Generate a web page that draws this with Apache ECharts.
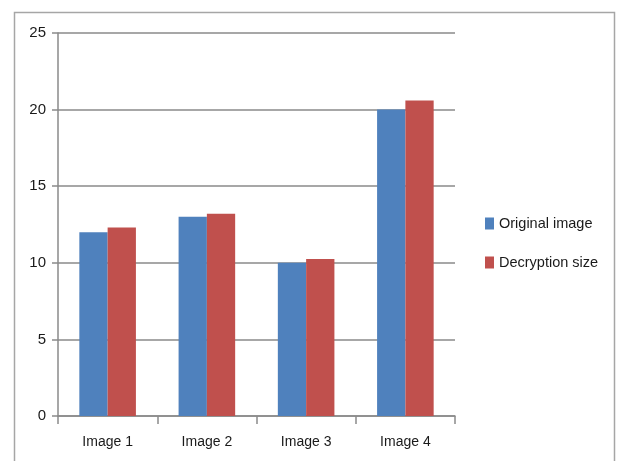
<!DOCTYPE html>
<html>
<head>
<meta charset="utf-8">
<script src="https://cdn.jsdelivr.net/npm/echarts@6/dist/echarts.min.js"></script>
<style>
  html, body { margin: 0; padding: 0; background: #fff; }
  #chart { width: 617px; height: 461px; }
</style>
</head>
<body>
<div id="chart"></div>
<script>
// Size comparison per image
const categories = ['Image 1', 'Image 2', 'Image 3', 'Image 4'];
const originalImage = [12, 13, 10, 20];
const decryptionSize = [12.3, 13.2, 10.25, 20.6];
const seriesNames = ['Original image', 'Decryption size'];

const FONT = "'Liberation Sans', 'Noto Sans', sans-serif";
const GRID_COLOR = '#8a8a8a';

const chart = echarts.init(document.getElementById('chart'));
chart.setOption({
  animation: false,
  backgroundColor: '#fff',
  graphic: [{
    type: 'rect',
    shape: { x: 14.5, y: 12.5, width: 600, height: 460 },
    style: { fill: 'none', stroke: '#a6a6a6', lineWidth: 1.5 },
    silent: true
  }],
  grid: { left: 58, top: 33, right: 162, bottom: 45 },
  legend: {
    orient: 'vertical',
    left: 480,
    top: 211,
    itemWidth: 9,
    itemHeight: 12,
    itemGap: 24,
    icon: 'rect',
    textStyle: { fontFamily: FONT, fontSize: 14.5, color: '#1a1a1a' },
    data: seriesNames
  },
  xAxis: {
    type: 'category',
    data: categories,
    boundaryGap: true,
    axisLine: { lineStyle: { color: GRID_COLOR, width: 1.5 } },
    axisTick: { show: true, length: 8, lineStyle: { color: GRID_COLOR, width: 1.5 } },
    axisLabel: { margin: 19, fontFamily: FONT, fontSize: 14, color: '#1a1a1a' }
  },
  yAxis: {
    type: 'value',
    min: 0,
    max: 25,
    interval: 5,
    axisLine: { show: true, lineStyle: { color: GRID_COLOR, width: 1.5 } },
    axisTick: { show: true, length: 6, lineStyle: { color: GRID_COLOR, width: 1.5 } },
    axisLabel: { margin: 12, fontFamily: FONT, fontSize: 15, color: '#1a1a1a' },
    splitLine: { lineStyle: { color: GRID_COLOR, width: 1.5 } }
  },
  series: [
    {
      name: seriesNames[0],
      type: 'bar',
      data: originalImage,
      barGap: '0%',
      barCategoryGap: '43%',
      itemStyle: { color: '#4f81bd' }
    },
    {
      name: seriesNames[1],
      type: 'bar',
      data: decryptionSize,
      itemStyle: { color: '#c0504d' }
    }
  ]
});
</script>
</body>
</html>
